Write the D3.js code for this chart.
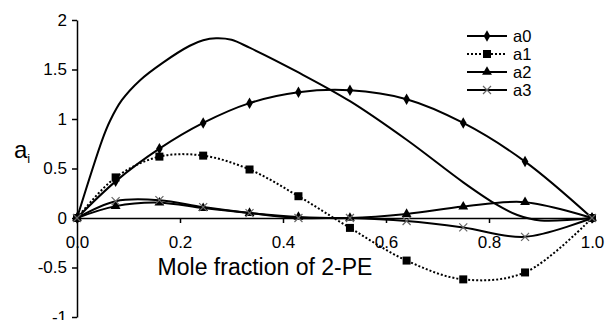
<!DOCTYPE html>
<html>
<head>
<meta charset="utf-8">
<script src="https://cdn.jsdelivr.net/npm/d3@7"></script>
<style>
  body { margin: 0; background: #fff; }
  svg { display: block; font-family: "Liberation Sans", Arial, sans-serif; }
</style>
</head>
<body>
<div id="chart"></div>
<script>
// mole fractions of 2-PE
const xVals = [0, 0.075, 0.16, 0.245, 0.335, 0.43, 0.53, 0.64, 0.75, 0.87, 1.0];
const a0 = [0, 0.37, 0.70, 0.96, 1.16, 1.27, 1.29, 1.20, 0.96, 0.57, 0];
const a1 = [0, 0.41, 0.62, 0.63, 0.49, 0.22, -0.10, -0.43, -0.62, -0.55, 0];
const a2 = [0, 0.12, 0.155, 0.10, 0.05, 0.01, 0.0, 0.04, 0.115, 0.16, 0];
const a3 = [0, 0.17, 0.18, 0.11, 0.05, 0.0, 0.0, -0.03, -0.095, -0.19, 0];
// curve without markers (not in legend), read along its path
const plainX = [0, 0.049, 0.064, 0.087, 0.122, 0.167, 0.219, 0.245, 0.27, 0.30, 0.335, 0.43, 0.53, 0.64, 0.75, 0.81, 0.855, 0.9, 1.0];
const plain = [0, 0.79, 0.98, 1.19, 1.39, 1.57, 1.74, 1.795, 1.815, 1.80, 1.72, 1.47, 1.18, 0.79, 0.36, 0.15, 0.03, -0.025, 0];

const seriesNames = ['a0', 'a1', 'a2', 'a3'];
const xTicks = [0, 0.2, 0.4, 0.6, 0.8, 1.0];
const yTicks = [-1, -0.5, 0, 0.5, 1, 1.5, 2];

const W = 607, H = 320;

const svg = d3.select('#chart').append('svg')
    .attr('width', W)
    .attr('height', H);

const x = d3.scaleLinear().domain([0, 1]).range([77, 592]);
const y = d3.scaleLinear().domain([-1, 2]).range([317, 20]);

// axes
const xAxis = svg.append('g')
    .attr('transform', `translate(0, ${y(0)})`)
    .call(d3.axisBottom(x).tickValues(xTicks).tickFormat(d3.format('.1f'))
        .tickSize(5).tickSizeOuter(0).tickPadding(13));
const yAxis = svg.append('g')
    .attr('transform', `translate(${x(0)}, 0)`)
    .call(d3.axisLeft(y).tickValues(yTicks).tickFormat(d => String(d))
        .tickSize(5).tickSizeOuter(0).tickPadding(5));

[xAxis, yAxis].forEach(function(g) {
    g.select('.domain').attr('stroke', '#000').attr('stroke-width', 1.5);
    g.selectAll('.tick line').attr('stroke', '#000').attr('stroke-width', 1.5);
    g.selectAll('.tick text')
        .attr('fill', '#000')
        .style('font-size', '17px')
        .style('font-family', '"Liberation Sans", Arial, sans-serif');
});

// axis titles
svg.append('text')
    .attr('x', 265)
    .attr('y', 275)
    .attr('text-anchor', 'middle')
    .style('font-size', '23px')
    .text('Mole fraction of 2-PE');

const yTitle = svg.append('text')
    .attr('x', 14)
    .attr('y', 158)
    .style('font-size', '24px');
yTitle.append('tspan').text('a');
yTitle.append('tspan').attr('dy', 5).style('font-size', '13px').text('i');

// lines
const line = d3.line()
    .x(d => x(d[0]))
    .y(d => y(d[1]))
    .curve(d3.curveCatmullRom);

function pairs(xs, vals) {
    return xs.map((v, i) => [v, vals[i]]);
}

const allSeries = [
    {name: 'plain', xs: plainX, vals: plain, dash: null, marker: null},
    {name: 'a0', xs: xVals, vals: a0, dash: null, marker: 'diamond'},
    {name: 'a1', xs: xVals, vals: a1, dash: '2,2', marker: 'square'},
    {name: 'a2', xs: xVals, vals: a2, dash: null, marker: 'triangle'},
    {name: 'a3', xs: xVals, vals: a3, dash: null, marker: 'x'}
];

allSeries.forEach(function(s) {
    svg.append('path')
        .datum(pairs(s.xs, s.vals))
        .attr('d', line)
        .attr('fill', 'none')
        .attr('stroke', '#000')
        .attr('stroke-width', 2)
        .attr('stroke-dasharray', s.dash);
});

function drawMarker(g, type, cx, cy) {
    if (type === 'diamond') {
        g.append('path')
            .attr('d', d3.symbol().type(d3.symbolDiamond).size(38)())
            .attr('transform', `translate(${cx}, ${cy})`)
            .attr('fill', '#000');
    } else if (type === 'square') {
        g.append('rect')
            .attr('x', cx - 4).attr('y', cy - 4)
            .attr('width', 8).attr('height', 8)
            .attr('fill', '#000');
    } else if (type === 'triangle') {
        g.append('path')
            .attr('d', d3.symbol().type(d3.symbolTriangle).size(42)())
            .attr('transform', `translate(${cx}, ${cy})`)
            .attr('fill', '#000');
    } else if (type === 'x') {
        g.append('path')
            .attr('d', `M${cx - 4},${cy - 4}L${cx + 4},${cy + 4}M${cx - 4},${cy + 4}L${cx + 4},${cy - 4}`)
            .attr('stroke', '#666')
            .attr('stroke-width', 1.2)
            .attr('fill', 'none');
    }
}

const markers = svg.append('g');
allSeries.filter(s => s.marker).forEach(function(s) {
    pairs(s.xs, s.vals).forEach(function(d) {
        drawMarker(markers, s.marker, x(d[0]), y(d[1]));
    });
});

// legend
const legend = svg.append('g');
allSeries.filter(s => s.marker).forEach(function(s, i) {
    const ly = 36 + i * 18;
    legend.append('line')
        .attr('x1', 467).attr('x2', 507)
        .attr('y1', ly).attr('y2', ly)
        .attr('stroke', '#000')
        .attr('stroke-width', 2)
        .attr('stroke-dasharray', s.dash);
    drawMarker(legend, s.marker, 487, ly);
    legend.append('text')
        .attr('x', 513)
        .attr('y', ly + 6)
        .style('font-size', '16.5px')
        .text(seriesNames[i]);
});
</script>
</body>
</html>
